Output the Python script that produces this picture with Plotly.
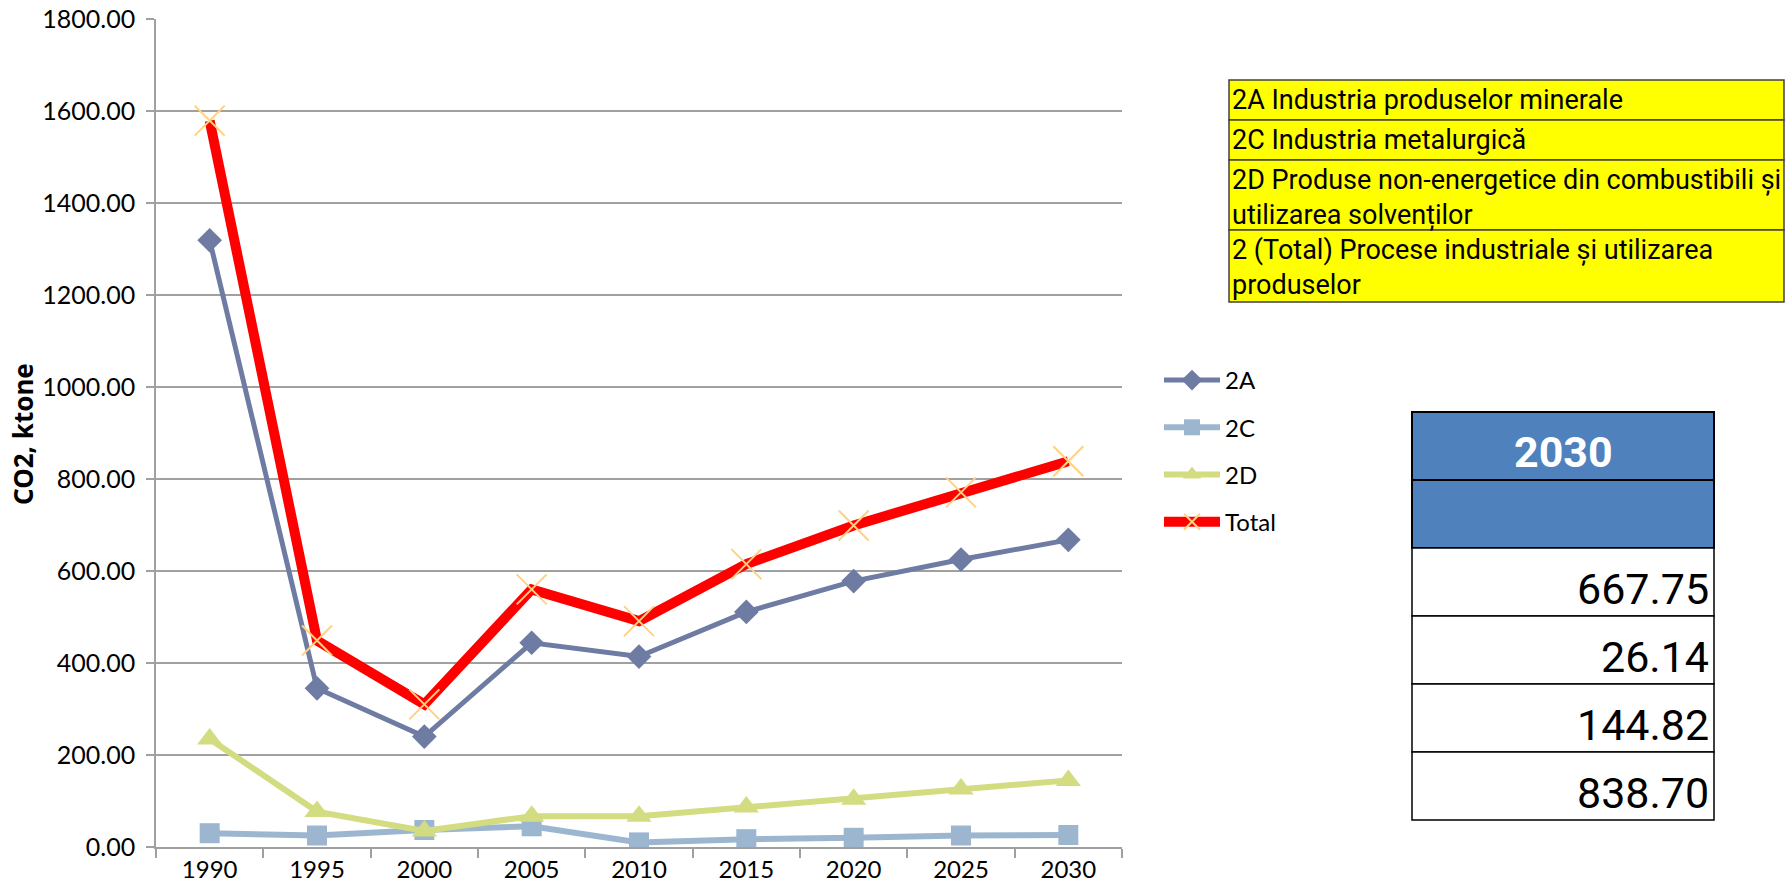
import plotly.graph_objects as go

# CO2 emissions from industrial processes, ktone
years = ["1990", "1995", "2000", "2005", "2010", "2015", "2020", "2025", "2030"]
sector_2a = [1319, 345, 240, 444, 414, 511, 578, 625, 667.75]
sector_2c = [30, 25, 37, 45, 10, 17, 20, 25, 26.14]
sector_2d = [235, 77, 35, 67, 67, 87, 104, 126, 144.82]
total = [1579, 449, 310, 560, 491, 615, 699, 771, 838.70]

series_names = ["2A", "2C", "2D", "Total"]
descriptions = [
    "2A Industria produselor minerale",
    "2C Industria metalurgică",
    "2D Produse non-energetice din combustibili și<br>utilizarea solvenților",
    "2 (Total) Procese industriale și utilizarea<br>produselor",
]

W, H = 1787, 892


def px(x):
    return x / W


def py(y):
    return 1 - y / H


fig = go.Figure()

styles = [
    (sector_2a, "#6E7BA3", "diamond", 19, 5),
    (sector_2c, "#9DB6D0", "square", 20, 6),
    (sector_2d, "#D3DC80", "triangle-up", 22, 6),
]
for name, (vals, color, symbol, msize, lw) in zip(series_names[:3], styles):
    fig.add_trace(go.Scatter(
        x=years, y=vals, name=name, mode="lines+markers",
        line=dict(color=color, width=lw),
        marker=dict(symbol=symbol, size=msize, color=color),
        legendgroup=name,
    ))

fig.add_trace(go.Scatter(
    x=years, y=total, name=series_names[3], mode="lines+markers",
    line=dict(color="#FF0000", width=10),
    marker=dict(symbol="x-thin", size=30, color="#FFD27F",
                line=dict(color="#FFD27F", width=2)),
    legendgroup=series_names[3],
))

grid = "#A0A0A0"
fig.update_layout(
    width=W, height=H,
    margin=dict(l=0, r=0, t=0, b=0),
    paper_bgcolor="white", plot_bgcolor="white",
    font=dict(family="Lato, sans-serif", color="black"),
    showlegend=True,
    legend=dict(
        x=px(1159), y=py(358), xanchor="left", yanchor="top",
        font=dict(family="Lato, sans-serif", size=24, color="black"),
        tracegroupgap=13, itemwidth=56, bgcolor="rgba(0,0,0,0)",
    ),
    xaxis=dict(
        domain=[px(156), px(1122)], type="category", range=[-0.5, len(years) - 0.5],
        showgrid=False, showline=True, linecolor=grid, linewidth=1.5,
        ticks="outside", tickson="boundaries", ticklen=9, tickcolor=grid, tickwidth=1.5,
        tickfont=dict(family="Lato, sans-serif", size=24),
        automargin=False, zeroline=False,
    ),
    yaxis=dict(
        domain=[1 - 847 / H, 1 - 19 / H], range=[0, 1800], dtick=200,
        tickformat=".2f", showgrid=True, gridcolor=grid, gridwidth=1.5,
        showline=True, linecolor=grid, linewidth=1.5,
        ticks="outside", ticklen=8, tickcolor=grid, tickwidth=1.5,
        ticklabelstandoff=6,
        tickfont=dict(family="Lato, sans-serif", size=25),
        automargin=False, zeroline=False,
    ),
)

annotations = [dict(
    text="<b>CO2, ktone</b>", x=px(23), y=py(434), xref="paper", yref="paper",
    textangle=-90, showarrow=False, xanchor="center", yanchor="middle",
    font=dict(family="Noto Sans, sans-serif", size=26, color="black"),
)]
shapes = []

# description table
yl, yr = 1229, 1784
row_edges = [80, 120, 160, 230, 302]
for i, desc in enumerate(descriptions):
    top, bot = row_edges[i], row_edges[i + 1]
    shapes.append(dict(type="rect", xref="paper", yref="paper",
                       x0=px(yl), x1=px(yr), y0=py(bot), y1=py(top),
                       fillcolor="#FFFF00", line=dict(color="#404040", width=1.5),
                       layer="below"))
    annotations.append(dict(
        text=desc, x=px(yl + 1), y=py(top + 2), xref="paper", yref="paper",
        xanchor="left", yanchor="top", align="left", showarrow=False,
        font=dict(family="Roboto, sans-serif", size=27, color="black"),
    ))

# 2030 values table
bl, br = 1412, 1714
blue_edges = [412, 480, 548]
for top, bot in zip(blue_edges[:-1], blue_edges[1:]):
    shapes.append(dict(type="rect", xref="paper", yref="paper",
                       x0=px(bl), x1=px(br), y0=py(bot), y1=py(top),
                       fillcolor="#4F81BD", line=dict(color="black", width=2),
                       layer="below"))
annotations.append(dict(
    text=f"<b>{years[-1]}</b>", x=px((bl + br) / 2), y=py(452),
    xref="paper", yref="paper", xanchor="center", yanchor="middle", showarrow=False,
    font=dict(family="Roboto, sans-serif", size=43, color="white"),
))

last_values = [sector_2a[-1], sector_2c[-1], sector_2d[-1], total[-1]]
row_h = 68
for i, v in enumerate(last_values):
    top = 548 + i * row_h
    bot = top + row_h
    shapes.append(dict(type="rect", xref="paper", yref="paper",
                       x0=px(bl), x1=px(br), y0=py(bot), y1=py(top),
                       fillcolor="white", line=dict(color="black", width=1.5),
                       layer="below"))
    annotations.append(dict(
        text=f"{v:.2f}", x=px(br - 3), y=py(bot - 27),
        xref="paper", yref="paper", xanchor="right", yanchor="middle", showarrow=False,
        font=dict(family="Roboto, sans-serif", size=43, color="black"),
    ))

fig.update_layout(annotations=annotations, shapes=shapes)
fig.write_html("out.html")
